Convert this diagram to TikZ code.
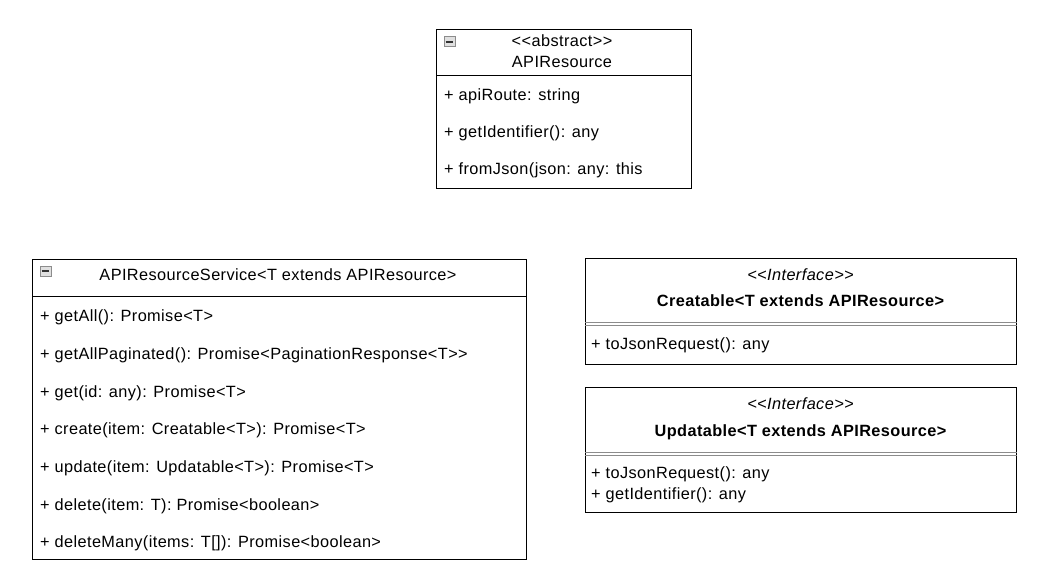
\documentclass[tikz,border=0pt]{standalone}
\usepackage{fontspec}
\setmainfont{Liberation Sans}[LetterSpace=2.5]
\begin{document}
\begin{tikzpicture}[x=1pt,y=-1pt,
  box/.style={draw=black,line width=1pt,fill=white,anchor=north west,inner sep=0pt},
  txt/.style={anchor=base west,inner sep=0pt,font=\fontsize{16.3}{19}\selectfont},
  ctxt/.style={anchor=base,inner sep=0pt,font=\fontsize{16.3}{19}\selectfont},
  sep/.style={line width=1pt,black},
  dsep/.style={line width=1pt,black!45},
  icon/.style={draw=black!45,fill=black!12,line width=0.8pt,minimum width=11pt,minimum height=10pt,inner sep=0pt,anchor=north west}]
\useasboundingbox (0,0) rectangle (1051,586);

% APIResource
\node[box,minimum width=255pt,minimum height=159pt] (res) at (436,29) {};
\draw[sep] ([yshift=-46pt]res.north west) -- ([yshift=-46pt]res.north east);
\node[icon] (resicon) at (443.5,36.5) {};
\draw[line width=1.3pt,black!80] ([xshift=2pt]resicon.west) -- ([xshift=-2pt]resicon.east);
\node[ctxt] (resst) at (562,47) {<{}<abstract>{}>};
\node[ctxt] (resname) at (562,67) {APIResource};
\node[txt] (res1) at (444,100.5) {+ apiRoute: string};
\node[txt] (res2) at (444,137.5) {+ getIdentifier(): any};
\node[txt] (res3) at (444,174.5) {+ fromJson(json: any: this};

% APIResourceService
\node[box,minimum width=494pt,minimum height=300pt] (svc) at (32,259) {};
\draw[sep] ([yshift=-37pt]svc.north west) -- ([yshift=-37pt]svc.north east);
\node[icon] (svcicon) at (39.5,265.5) {};
\draw[line width=1.3pt,black!80] ([xshift=2pt]svcicon.west) -- ([xshift=-2pt]svcicon.east);
\node[ctxt] (svcname) at (278,280.5) {APIResourceService<T extends APIResource>};
\node[txt] (svc1) at (40,321) {+ getAll(): Promise<T>};
\node[txt] (svc2) at (40,359) {+ getAllPaginated(): Promise<PaginationResponse<T>{}>};
\node[txt] (svc3) at (40,397) {+ get(id: any): Promise<T>};
\node[txt] (svc4) at (40,434) {+ create(item: Creatable<T>): Promise<T>};
\node[txt] (svc5) at (40,472) {+ update(item: Updatable<T>): Promise<T>};
\node[txt] (svc6) at (40,510) {+ delete(item: T): Promise<boolean>};
\node[txt] (svc7) at (40,547) {+ deleteMany(items: T[]): Promise<boolean>};

% Creatable
\node[box,minimum width=431pt,minimum height=106pt] (cre) at (585,258) {};
\draw[dsep] ([yshift=-64pt]cre.north west) -- ([yshift=-64pt]cre.north east);
\draw[dsep] ([yshift=-67.5pt]cre.north west) -- ([yshift=-67.5pt]cre.north east);
\node[ctxt,font=\fontsize{16.3}{19}\selectfont\itshape] (crest) at (800.5,280.5) {<{}<Interface>{}>};
\node[ctxt,font=\fontsize{16.3}{19}\selectfont\bfseries] (crename) at (800.5,306.5) {Creatable<T extends APIResource>};
\node[txt] (cre1) at (591,349.5) {+ toJsonRequest(): any};

% Updatable
\node[box,minimum width=431pt,minimum height=125pt] (upd) at (585,387) {};
\draw[dsep] ([yshift=-65pt]upd.north west) -- ([yshift=-65pt]upd.north east);
\draw[dsep] ([yshift=-68.5pt]upd.north west) -- ([yshift=-68.5pt]upd.north east);
\node[ctxt,font=\fontsize{16.3}{19}\selectfont\itshape] (updst) at (800.5,409.5) {<{}<Interface>{}>};
\node[ctxt,font=\fontsize{16.3}{19}\selectfont\bfseries] (updname) at (800.5,436.5) {Updatable<T extends APIResource>};
\node[txt] (upd1) at (591,478.5) {+ toJsonRequest(): any};
\node[txt] (upd2) at (591,499.5) {+ getIdentifier(): any};
\end{tikzpicture}
\end{document}
